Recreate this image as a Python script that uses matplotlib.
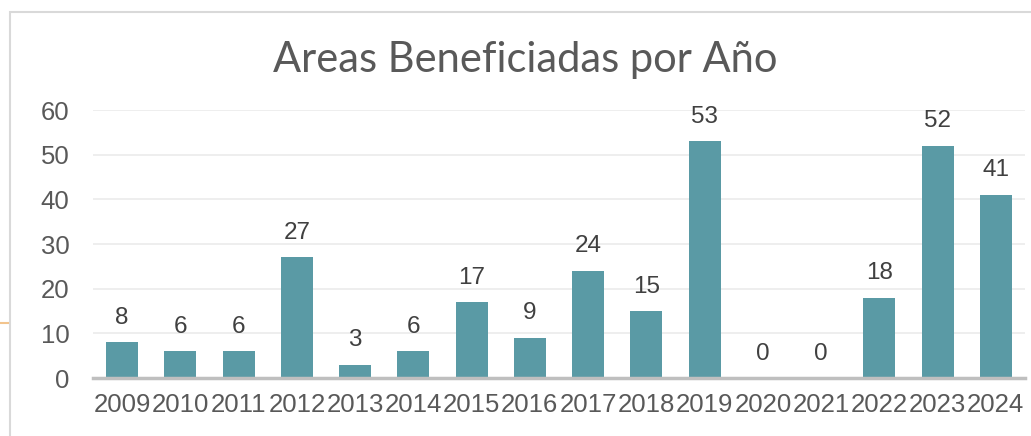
import numpy as np
import matplotlib.pyplot as plt
from matplotlib.patches import Rectangle
from matplotlib.lines import Line2D

years = ['2009', '2010', '2011', '2012', '2013', '2014', '2015', '2016',
         '2017', '2018', '2019', '2020', '2021', '2022', '2023', '2024']
areas = [8, 6, 6, 27, 3, 6, 17, 9, 24, 15, 53, 0, 0, 18, 52, 41]
yticks = [0, 10, 20, 30, 40, 50, 60]

W, H = 1031, 436
fig = plt.figure(figsize=(W / 100, H / 100), dpi=100)

# chart frame (border of the embedded chart)
fig.patches.append(Rectangle((10 / W, -0.1), 1.2, (H - 12) / H + 0.1,
                             transform=fig.transFigure, fill=False,
                             edgecolor='#D9D9D9', linewidth=1.5))
fig.lines.append(Line2D([0, 8 / W], [1 - 323 / H, 1 - 323 / H],
                        transform=fig.transFigure, color='#F2C48D', linewidth=1.5))

ax = fig.add_axes([93 / W, 1 - 378 / H, (1025 - 93) / W, (378 - 110) / H])
x = np.arange(len(years))
ax.bar(x, areas, width=0.55, color='#5A9AA5', zorder=3)

for xi, v in zip(x, areas):
    ax.text(xi, v + 3.0, str(v), ha='center', va='bottom', fontsize=17.5,
            family='Liberation Sans', color='#404040')

ax.set_xlim(-0.5, len(years) - 0.5)
ax.set_ylim(0, 60)
ax.set_yticks(yticks)
ax.set_xticks(x)
ax.set_xticklabels(years)
ax.tick_params(length=0, labelsize=18.5, labelcolor='#595959')
ax.tick_params(axis='x', pad=11)
ax.tick_params(axis='y', pad=17)
for lab in ax.get_xticklabels() + ax.get_yticklabels():
    lab.set_family('Liberation Sans')
ax.grid(axis='y', color='#EBEBEB', linewidth=1.2, zorder=0)
for s in ['top', 'right', 'left']:
    ax.spines[s].set_visible(False)
ax.spines['bottom'].set_color('#BFBFBF')
ax.spines['bottom'].set_linewidth(2.5)
ax.spines['bottom'].set_zorder(4)

fig.text(525 / W, 1 - 60 / H, 'Areas Beneficiadas por Año', ha='center', va='center',
         fontsize=30, family='Lato', color='#595959')

fig.savefig('out.png', dpi=100)
